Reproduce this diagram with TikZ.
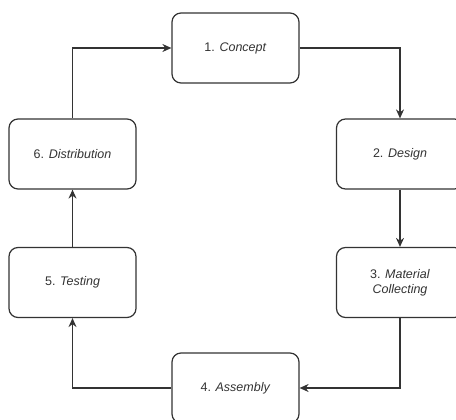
\documentclass[tikz,border=0pt]{standalone}
\usepackage{fontspec}
\setmainfont{Liberation Sans}
\usetikzlibrary{arrows.meta}
\definecolor{linegray}{HTML}{333333}
\begin{document}
\begin{tikzpicture}[x=1pt, y=-1pt,
	stage/.style={draw=linegray, line width=1.2pt, rounded corners=9pt, fill=white,
		minimum width=127pt, minimum height=70pt, align=center, text=linegray,
		font=\fontsize{12.5}{15}\selectfont},
	flow/.style={draw=linegray, line width=1.2pt, -{Stealth[length=9pt, width=8pt]}}]
	\clip (0,0) rectangle (456,420);

	%% Stufen
	\node[stage] (concept) at (235.5,48) {1. \textit{Concept}};
	\node[stage] (design) at (400,154) {2. \textit{Design}};
	\node[stage] (matcol) at (400,282.5) {3. \textit{Material}\\\textit{Collecting}};
	\node[stage] (assembly) at (235.5,388) {4. \textit{Assembly}};
	\node[stage] (testing) at (72.5,282.5) {5. \textit{Testing}};
	\node[stage] (distrib) at (72.5,154) {6. \textit{Distribution}};

	%%%%%%%%%%%%%%%%

	%% Kreislauf
	\draw[flow] (concept.east) -| (design.north);
	\draw[flow] (design.south) -- (matcol.north);
	\draw[flow] (matcol.south) |- (assembly.east);
	\draw[flow] (assembly.west) -| (testing.south);
	\draw[flow] (testing.north) -- (distrib.south);
	\draw[flow] (distrib.north) |- (concept.west);
\end{tikzpicture}
\end{document}
